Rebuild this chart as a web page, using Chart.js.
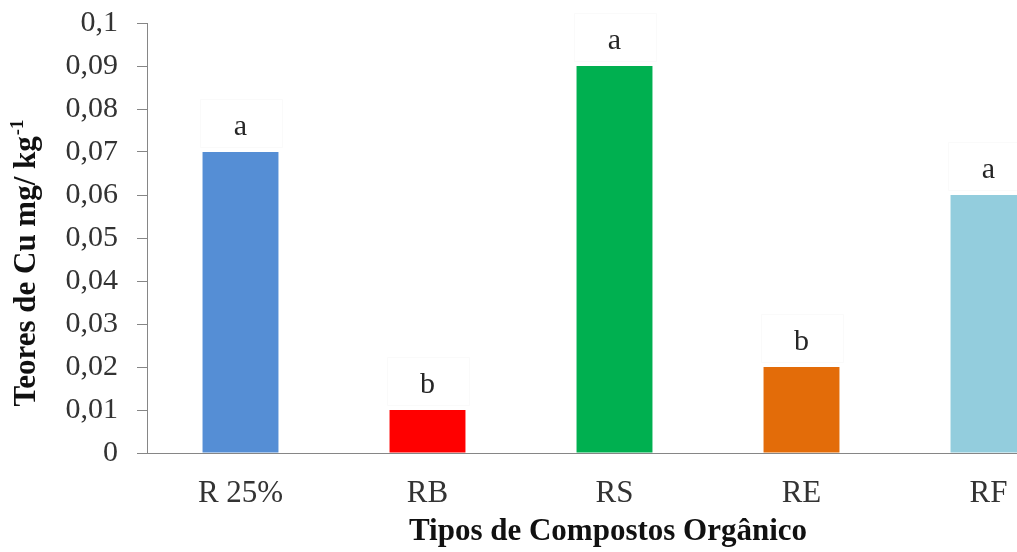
<!DOCTYPE html>
<html>
<head>
<meta charset="utf-8">
<script src="https://cdn.jsdelivr.net/npm/chart.js@4/dist/chart.umd.min.js"></script>
<style>
  html, body { margin: 0; padding: 0; background: #ffffff; }
  #wrap { width: 1017px; height: 552px; overflow: hidden; position: relative; }
  canvas { display: block; position: absolute; left: 0; top: -14px; }
</style>
</head>
<body>
<div id="wrap"><canvas id="c" width="1100" height="566"></canvas></div>
<script>
// Copper content by type of organic compost
const categories = ['R 25%', 'RB', 'RS', 'RE', 'RF'];
const cuValues = [0.07, 0.01, 0.09, 0.02, 0.06];
const letters = ['a', 'b', 'a', 'b', 'a'];
const barColors = ['#558ED5', '#FF0000', '#00B050', '#E36C09', '#93CDDD'];
const yTitle = 'Teores de Cu mg/ kg';
const yTitleSup = '-1';
const xTitle = 'Tipos de Compostos Orgânico';

const SERIF = '"Liberation Serif", "Times New Roman", serif';
const AXIS = '#868686';
const SHIFT = 14; // canvas sits this many px above the visible frame

function fmtTick(v) {
  let s = Number(v).toFixed(2).replace(/0+$/, '').replace(/\.$/, '');
  return s.replace('.', ',');
}

const annotate = {
  id: 'annotate',
  afterDatasetsDraw(chart) {
    const ctx = chart.ctx;
    const meta = chart.getDatasetMeta(0);
    ctx.save();
    ctx.font = '30px ' + SERIF;
    ctx.textAlign = 'center';
    ctx.textBaseline = 'alphabetic';
    meta.data.forEach((bar, i) => {
      const base = bar.y - 17;
      // faint label box
      ctx.fillStyle = '#ffffff';
      ctx.strokeStyle = 'rgba(0,0,0,0.018)';
      ctx.lineWidth = 1;
      ctx.beginPath();
      ctx.rect(Math.round(bar.x - 41) + 0.5, Math.round(base - 36) + 0.5, 82, 48);
      ctx.fill();
      ctx.stroke();
      ctx.fillStyle = '#262626';
      ctx.fillText(letters[i], bar.x, base);
    });
    ctx.restore();
  },
  afterDraw(chart) {
    const ctx = chart.ctx;
    ctx.save();
    ctx.fillStyle = '#111111';
    // y axis title (rotated, with superscript)
    ctx.font = 'bold 31px ' + SERIF;
    const wMain = ctx.measureText(yTitle).width;
    ctx.font = 'bold 19px ' + SERIF;
    const wSup = ctx.measureText(yTitleSup).width;
    const total = wMain + wSup + 1;
    ctx.translate(35, 263 + SHIFT);
    ctx.rotate(-Math.PI / 2);
    ctx.textAlign = 'left';
    ctx.textBaseline = 'alphabetic';
    ctx.font = 'bold 31px ' + SERIF;
    ctx.fillText(yTitle, -total / 2, 0);
    ctx.font = 'bold 19px ' + SERIF;
    ctx.fillText(yTitleSup, -total / 2 + wMain + 1, -12);
    ctx.restore();

    ctx.save();
    ctx.fillStyle = '#111111';
    ctx.font = 'bold 31px ' + SERIF;
    ctx.textAlign = 'center';
    ctx.textBaseline = 'alphabetic';
    ctx.fillText(xTitle, 608, 540 + SHIFT);
    ctx.restore();
  }
};

new Chart(document.getElementById('c'), {
  type: 'bar',
  data: {
    labels: categories,
    datasets: [{
      data: cuValues,
      backgroundColor: barColors,
      borderWidth: 0,
      categoryPercentage: 1,
      barPercentage: 0.406
    }]
  },
  options: {
    responsive: false,
    animation: false,
    devicePixelRatio: 1,
    layout: { padding: { top: 0, right: 18, left: 0, bottom: 0 } },
    plugins: { legend: { display: false }, tooltip: { enabled: false } },
    scales: {
      x: {
        grid: { display: false, drawTicks: false },
        border: { display: true, color: AXIS, width: 1 },
        ticks: {
          color: '#333333',
          font: { family: SERIF, size: 31 },
          padding: 22,
          maxRotation: 0
        },
        afterFit(scale) { scale.height = 99; }
      },
      y: {
        min: 0,
        max: 0.1,
        grid: { drawOnChartArea: false, drawTicks: true, tickLength: 10, color: AXIS },
        border: { display: true, color: AXIS, width: 1 },
        ticks: {
          stepSize: 0.01,
          color: '#333333',
          font: { family: SERIF, size: 30 },
          padding: 19,
          callback: (v) => fmtTick(v)
        },
        afterFit(scale) { scale.width = 147; }
      }
    }
  },
  plugins: [annotate]
});
</script>
</body>
</html>
